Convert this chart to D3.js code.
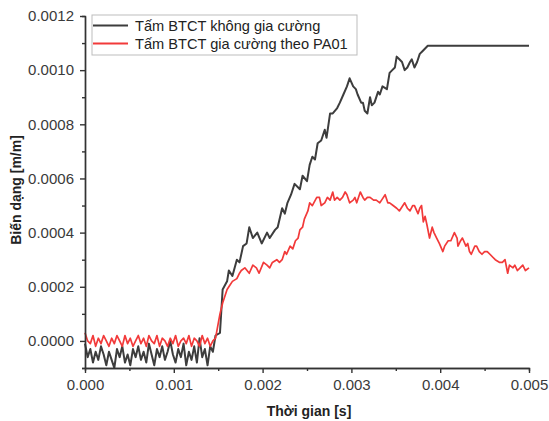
<!DOCTYPE html>
<html>
<head>
<meta charset="utf-8">
<script src="https://cdn.jsdelivr.net/npm/d3@7"></script>
<style>
  body { margin: 0; background: #fff; }
  svg { font-family: "Liberation Sans", Arial, sans-serif; }
</style>
</head>
<body>
<div id="container"></div>
<script>
/* CONSTANTS AND GLOBALS */
const width = 549,
  height = 421,
  margin = { top: 16, bottom: 53, left: 85, right: 20 };

/* DATA */
const seriesNames = ["Tấm BTCT không gia cường", "Tấm BTCT gia cường theo PA01"];
const seriesColors = ["#3d3d3d", "#f23a3a"];

const xTicks = [0, 0.001, 0.002, 0.003, 0.004, 0.005];
const yTicks = [0, 0.0002, 0.0004, 0.0006, 0.0008, 0.0010, 0.0012];

// [time (s), strain (m/m)] - unreinforced slab
const plainSlab = [
  [0.00000, -0.00001], [0.00003, -0.00006], [0.00006, -0.00003], [0.00009, -0.00008],
  [0.00012, -0.00004], [0.00015, -0.00007], [0.00018, -0.00002], [0.00021, -0.00005],
  [0.00024, -0.00009], [0.00027, -0.00004], [0.00030, -0.00007], [0.00033, -0.00010],
  [0.00036, -0.00003], [0.00039, -0.00006], [0.00042, -0.00002], [0.00045, -0.00008],
  [0.00048, -0.00005], [0.00051, -0.00009], [0.00054, -0.00003], [0.00057, -0.00006],
  [0.00060, -0.00002], [0.00063, -0.00007], [0.00066, -0.00004], [0.00069, -0.00008],
  [0.00072, -0.00001], [0.00075, -0.00005], [0.00078, -0.00009], [0.00081, -0.00003],
  [0.00084, -0.00006], [0.00087, -0.00002], [0.00090, -0.00007], [0.00093, -0.00004],
  [0.00096, 0.00000], [0.00099, -0.00005], [0.00102, -0.00008], [0.00105, -0.00003],
  [0.00108, -0.00006], [0.00111, -0.00001], [0.00114, -0.00009], [0.00117, -0.00004],
  [0.00120, -0.00007], [0.00123, -0.00002], [0.00126, -0.00008], [0.00129, 0.00001],
  [0.00132, -0.00006], [0.00135, -0.00003], [0.00138, -0.00009], [0.00141, -0.00002],
  [0.00144, -0.00004], [0.00147, 0.00002], [0.00152, 0.00003], [0.00155, 0.00019],
  [0.00160, 0.00022], [0.00162, 0.00026], [0.00166, 0.00024], [0.00171, 0.00030],
  [0.00174, 0.00029], [0.00178, 0.00035], [0.00182, 0.00036], [0.00185, 0.00042],
  [0.00189, 0.00038], [0.00194, 0.00040], [0.00199, 0.00036], [0.00205, 0.00040],
  [0.00208, 0.00038], [0.00214, 0.00041], [0.00217, 0.00042], [0.00222, 0.00049],
  [0.00225, 0.00047], [0.00228, 0.00051], [0.00232, 0.00054], [0.00236, 0.00058],
  [0.00242, 0.00056], [0.00245, 0.00061], [0.00250, 0.00059], [0.00253, 0.00065],
  [0.00256, 0.00068], [0.00259, 0.00067], [0.00262, 0.00073], [0.00266, 0.00074],
  [0.00270, 0.00078], [0.00272, 0.00075], [0.00276, 0.00084], [0.00279, 0.00084],
  [0.00284, 0.00086], [0.00287, 0.00088], [0.00291, 0.00091], [0.00295, 0.00094],
  [0.00298, 0.00097], [0.00302, 0.00094], [0.00305, 0.00093], [0.00307, 0.00091],
  [0.00311, 0.00088], [0.00313, 0.00088], [0.00315, 0.00085], [0.00318, 0.00084],
  [0.00321, 0.00090], [0.00323, 0.00087], [0.00326, 0.00088], [0.00330, 0.00092],
  [0.00332, 0.00091], [0.00335, 0.00094], [0.00340, 0.00093], [0.00343, 0.00099],
  [0.00346, 0.00100], [0.00349, 0.00101], [0.00351, 0.00105], [0.00354, 0.00104],
  [0.00357, 0.00103], [0.00360, 0.00100], [0.00363, 0.00101], [0.00366, 0.00103],
  [0.00368, 0.00104], [0.00371, 0.00101], [0.00374, 0.00103], [0.00377, 0.00106],
  [0.00380, 0.00107], [0.00386, 0.00109], [0.00500, 0.00109]
];

// [time (s), strain (m/m)] - slab reinforced per PA01
const reinforcedSlab = [
  [0.00000, 0.00003], [0.00003, 0.00000], [0.00006, -0.00001], [0.00009, 0.00002],
  [0.00012, -0.00002], [0.00015, 0.00001], [0.00018, -0.00001], [0.00021, 0.00002],
  [0.00024, 0.00000], [0.00027, -0.00002], [0.00030, 0.00001], [0.00033, -0.00001],
  [0.00036, 0.00002], [0.00039, 0.00000], [0.00042, -0.00002], [0.00045, 0.00002],
  [0.00048, -0.00001], [0.00051, 0.00001], [0.00054, -0.00002], [0.00057, 0.00000],
  [0.00060, 0.00002], [0.00063, -0.00001], [0.00066, 0.00001], [0.00069, -0.00002],
  [0.00072, 0.00002], [0.00075, 0.00000], [0.00078, -0.00001], [0.00081, 0.00002],
  [0.00084, -0.00002], [0.00087, 0.00001], [0.00090, 0.00000], [0.00093, -0.00002],
  [0.00096, 0.00001], [0.00099, -0.00001], [0.00102, 0.00002], [0.00105, -0.00002],
  [0.00108, 0.00000], [0.00111, 0.00001], [0.00114, -0.00001], [0.00117, 0.00002],
  [0.00120, -0.00002], [0.00123, 0.00001], [0.00126, 0.00000], [0.00129, -0.00002],
  [0.00132, 0.00002], [0.00135, -0.00001], [0.00138, 0.00001], [0.00141, -0.00002],
  [0.00144, 0.00000], [0.00147, 0.00001], [0.00152, 0.00010], [0.00155, 0.00014],
  [0.00160, 0.00019], [0.00162, 0.00020], [0.00166, 0.00022], [0.00171, 0.00023],
  [0.00174, 0.00025], [0.00176, 0.00026], [0.00180, 0.00027], [0.00185, 0.00025],
  [0.00189, 0.00028], [0.00193, 0.00027], [0.00196, 0.00025], [0.00201, 0.00029],
  [0.00205, 0.00028], [0.00208, 0.00027], [0.00211, 0.00029], [0.00216, 0.00030],
  [0.00219, 0.00029], [0.00222, 0.00030], [0.00225, 0.00033], [0.00227, 0.00032],
  [0.00231, 0.00035], [0.00234, 0.00034], [0.00237, 0.00037], [0.00240, 0.00038],
  [0.00242, 0.00041], [0.00245, 0.00042], [0.00247, 0.00045], [0.00251, 0.00048],
  [0.00253, 0.00051], [0.00256, 0.00050], [0.00261, 0.00053], [0.00264, 0.00053],
  [0.00266, 0.00050], [0.00270, 0.00051], [0.00273, 0.00053], [0.00276, 0.00052],
  [0.00279, 0.00055], [0.00281, 0.00052], [0.00284, 0.00053], [0.00287, 0.00052],
  [0.00290, 0.00053], [0.00293, 0.00055], [0.00295, 0.00054], [0.00298, 0.00051],
  [0.00302, 0.00052], [0.00304, 0.00053], [0.00306, 0.00051], [0.00310, 0.00055],
  [0.00313, 0.00053], [0.00315, 0.00052], [0.00318, 0.00053], [0.00321, 0.00053],
  [0.00325, 0.00052], [0.00328, 0.00052], [0.00332, 0.00051], [0.00334, 0.00052],
  [0.00338, 0.00054], [0.00341, 0.00051], [0.00343, 0.00051], [0.00347, 0.00050],
  [0.00351, 0.00049], [0.00354, 0.00048], [0.00358, 0.00050], [0.00360, 0.00051],
  [0.00363, 0.00049], [0.00366, 0.00048], [0.00369, 0.00050], [0.00371, 0.00050],
  [0.00375, 0.00047], [0.00377, 0.00049], [0.00379, 0.00050], [0.00381, 0.00044],
  [0.00383, 0.00046], [0.00385, 0.00043], [0.00388, 0.00038], [0.00391, 0.00042],
  [0.00393, 0.00040], [0.00396, 0.00038], [0.00399, 0.00036], [0.00403, 0.00033],
  [0.00405, 0.00035], [0.00409, 0.00037], [0.00412, 0.00037], [0.00416, 0.00040],
  [0.00419, 0.00038], [0.00420, 0.00035], [0.00423, 0.00037], [0.00425, 0.00038],
  [0.00429, 0.00035], [0.00431, 0.00036], [0.00433, 0.00033], [0.00435, 0.00032],
  [0.00439, 0.00035], [0.00441, 0.00035], [0.00444, 0.00033], [0.00447, 0.00032],
  [0.00450, 0.00033], [0.00453, 0.00033], [0.00456, 0.00032], [0.00459, 0.00031],
  [0.00462, 0.00030], [0.00467, 0.00029], [0.00470, 0.00029], [0.00473, 0.00030],
  [0.00476, 0.00025], [0.00478, 0.00028], [0.00482, 0.00027], [0.00484, 0.00028],
  [0.00487, 0.00026], [0.00490, 0.00027], [0.00493, 0.00028], [0.00496, 0.00026],
  [0.00500, 0.00027]
];

const allSeries = [plainSlab, reinforcedSlab];

/* SCALES */
const xScale = d3.scaleLinear()
  .domain([0, 0.005])
  .range([margin.left, width - margin.right])

const yScale = d3.scaleLinear()
  .domain([-0.0001, 0.0012])
  .range([height - margin.bottom, margin.top])

/* HTML ELEMENTS */
const svg = d3.select("#container")
  .append("svg")
  .attr("width", width)
  .attr("height", height)

// lines
const line = d3.line()
  .x(d => xScale(d[0]))
  .y(d => yScale(d[1]))

svg.selectAll("path.series")
  .data(allSeries)
  .join("path")
  .attr("class", "series")
  .attr("fill", "none")
  .attr("stroke", (d, i) => seriesColors[i])
  .attr("stroke-width", (d, i) => i === 0 ? 2 : 1.7)
  .attr("stroke-linejoin", "round")
  .attr("d", line)

// minor ticks
const xMinor = xTicks.slice(0, -1).map(d => d + 0.0005);
const yMinor = [-0.0001].concat(yTicks.slice(0, -1).map(d => d + 0.0001));

svg.append("g")
  .attr("class", "minor")
  .attr("transform", `translate(0,${height - margin.bottom})`)
  .call(d3.axisBottom(xScale).tickValues(xMinor).tickSize(3).tickFormat(""))

svg.append("g")
  .attr("class", "minor")
  .attr("transform", `translate(${margin.left},0)`)
  .call(d3.axisLeft(yScale).tickValues(yMinor).tickSize(3).tickFormat(""))

// axes
const xAxis = d3.axisBottom(xScale)
  .tickValues(xTicks)
  .tickFormat(d3.format(".3f"))
  .tickSize(5)
  .tickSizeOuter(0)
  .tickPadding(6)
svg.append("g")
  .attr("class", "axis")
  .attr("transform", `translate(0,${height - margin.bottom})`)
  .call(xAxis);

const yAxis = d3.axisLeft(yScale)
  .tickValues(yTicks)
  .tickFormat(d3.format(".4f"))
  .tickSize(5)
  .tickSizeOuter(0)
  .tickPadding(6)
svg.append("g")
  .attr("class", "axis")
  .attr("transform", `translate(${margin.left},0)`)
  .call(yAxis);

svg.selectAll(".axis text")
  .attr("font-size", 15)
  .attr("fill", "#3a3a3a")
  .attr("font-family", "Liberation Sans, Arial, sans-serif")
svg.selectAll(".axis path, .axis line, .minor path, .minor line")
  .attr("stroke", "#333")
  .attr("stroke-width", 1.4)

// axis titles
svg.append("text")
  .attr("x", (margin.left + width - margin.right) / 2 + 2)
  .attr("y", 416)
  .attr("text-anchor", "middle")
  .attr("font-size", 14)
  .attr("font-weight", "bold")
  .attr("fill", "#222")
  .text("Thời gian [s]")

svg.append("text")
  .attr("transform", "translate(21,190) rotate(-90)")
  .attr("text-anchor", "middle")
  .attr("font-size", 14)
  .attr("font-weight", "bold")
  .attr("fill", "#222")
  .text("Biến dạng [m/m]")

// legend
const legend = svg.append("g")
  .attr("transform", "translate(92,15)")

legend.append("rect")
  .attr("width", 265)
  .attr("height", 40)
  .attr("fill", "#fff")
  .attr("stroke", "#bdbdbd")
  .attr("stroke-width", 1)

const item = legend.selectAll("g.item")
  .data(seriesNames)
  .join("g")
  .attr("class", "item")
  .attr("transform", (d, i) => `translate(0,${10.5 + i * 18})`)

item.append("line")
  .attr("x1", 1)
  .attr("x2", 36)
  .attr("stroke", (d, i) => seriesColors[i])
  .attr("stroke-width", 2)

item.append("text")
  .attr("x", 43)
  .attr("y", 5)
  .attr("font-size", 14.6)
  .attr("fill", "#222")
  .text(d => d)
</script>
</body>
</html>
